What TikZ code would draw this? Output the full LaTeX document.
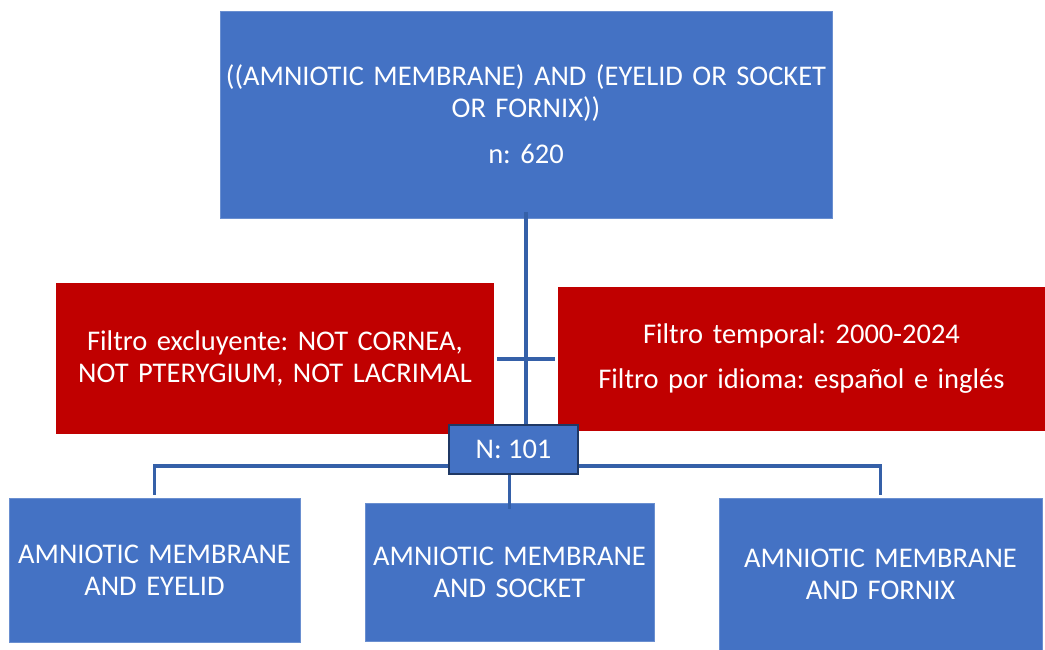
\documentclass[tikz,border=0pt]{standalone}
\usepackage{fontspec}
\setmainfont{Carlito}
\frenchspacing
\definecolor{boxblue}{HTML}{4472C4}
\definecolor{boxedge}{HTML}{6A8FD0}
\definecolor{boxred}{HTML}{C00000}
\definecolor{linkblue}{HTML}{3560A8}
\definecolor{navy}{HTML}{1F3864}
\tikzset{
  base/.style={inner sep=0pt, align=center, text=white, font=\fontsize{28.5}{32}\selectfont},
  bluebox/.style={base, fill=boxblue, draw=boxedge, line width=0.8pt},
  redbox/.style={base, fill=boxred},
  nbox/.style={base, fill=boxblue, draw=navy, line width=2.2pt},
  link/.style={draw=linkblue, line width=3.2pt}
}
\begin{document}
\begin{tikzpicture}[x=1pt,y=-1pt]
\useasboundingbox (0,0) rectangle (1045,649);
% top box
\node[bluebox, minimum width=612, minimum height=207, text width=612] (top) at (526,114.5)
  {((AMNIOTIC MEMBRANE) AND (EYELID OR SOCKET\\ OR FORNIX))\\[14pt] n: 620};
% filters
\node[redbox, minimum width=438, minimum height=151, text width=430] (fl) at (275,358.5)
  {Filtro excluyente: NOT CORNEA,\\ NOT PTERYGIUM, NOT LACRIMAL};
\node[redbox, minimum width=487, minimum height=144, text width=480] (fr) at (801.5,359)
  {Filtro temporal: 2000-2024\\[13pt] Filtro por idioma: español e inglés};
% N box
\node[nbox, minimum width=129, minimum height=49] (n) at (513.5,449.5) {N: 101};
% bottom boxes
\node[bluebox, minimum width=291, minimum height=144, text width=290] (b1) at (154.5,570)
  {AMNIOTIC MEMBRANE\\ AND EYELID};
\node[bluebox, minimum width=289, minimum height=138, text width=289] (b2) at (509.5,572)
  {AMNIOTIC MEMBRANE\\ AND SOCKET};
\node[bluebox, minimum width=323, minimum height=152, text width=320] (b3) at (880.5,574)
  {AMNIOTIC MEMBRANE\\ AND FORNIX};
% connectors
\coordinate (cl) at (497,359);
\coordinate (cr) at (555,359);
\coordinate (jl) at (154.5,466);
\coordinate (jr) at (880.5,466);
\draw[link] ([yshift=6pt]top.south) -- (top.south |- n.north);
\draw[link] (cl) -- (cr);
\draw[link] ([yshift=3pt]b1.north) -- (jl) -- (n.west |- jl);
\draw[link] ([yshift=3pt]b3.north) -- (jr) -- (n.east |- jr);
\draw[link] (b2.north |- n.south) -- ([yshift=-6pt]b2.north);
\end{tikzpicture}
\end{document}
